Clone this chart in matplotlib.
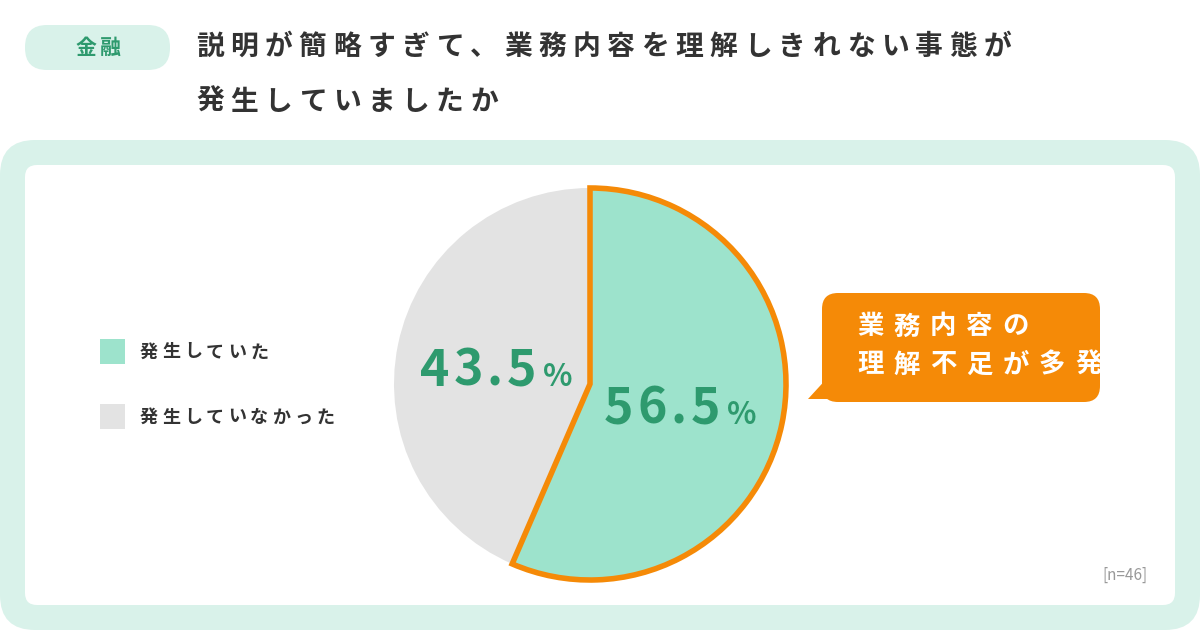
import matplotlib
matplotlib.use("Agg")
import matplotlib.pyplot as plt
from matplotlib.patches import FancyBboxPatch, Rectangle, Polygon

plt.rcParams['font.family'] = ['Noto Sans CJK JP', 'DejaVu Sans']

categories = ["発生していた", "発生していなかった"]
values = [56.5, 43.5]
colors = ["#9de3cc", "#e3e3e3"]
tag = "金融"
title_lines = ["説明が簡略すぎて、業務内容を理解しきれない事態が", "発生していましたか"]
callout_lines = ["業務内容の", "理解不足が多発"]
note = "[n=46]"

H = 630
fig = plt.figure(figsize=(12, 6.3), dpi=100)
ax = fig.add_axes([0, 0, 1, 1])
ax.set_xlim(0, 1200); ax.set_ylim(0, H); ax.set_aspect('equal'); ax.axis('off')
renderer = fig.canvas.get_renderer()

def Y(y): return H - y

def spaced(x, y, s, spacing, va='center', **kw):
    """Draw string char by char with extra letter spacing (pixels). Returns end x."""
    for ch in s:
        t = ax.text(x, y, ch, ha='left', va=va, **kw)
        w = t.get_window_extent(renderer).width
        x += w + spacing
    return x

def width_of(s, spacing, **kw):
    tot = 0
    for ch in s:
        t = ax.text(0, 0, ch, **kw)
        tot += t.get_window_extent(renderer).width + spacing
        t.remove()
    return tot - spacing

mint = "#d9f2ea"; green = "#2e9a6e"; orange = "#f58a07"; dark = "#333333"
ax.add_patch(FancyBboxPatch((25, Y(70)), 145, 45, boxstyle="round,pad=0,rounding_size=22", fc=mint, ec='none'))
spaced(76, Y(47), tag, 3, fontsize=15, color=green, fontweight='bold')
for i, line in enumerate(title_lines):
    spaced(196, Y(47 + 55 * i), line, 6.5, fontsize=20, color=dark, fontweight='bold')

ax.add_patch(FancyBboxPatch((0, 0), 1200, Y(140), boxstyle="round,pad=0,rounding_size=35", fc=mint, ec='none'))
ax.add_patch(FancyBboxPatch((25, Y(605)), 1150, 440, boxstyle="round,pad=0,rounding_size=12", fc='white', ec='none'))

wedges, _ = ax.pie(values, colors=colors, startangle=90, counterclock=False,
                   center=(590, Y(384)), radius=196, frame=True)
wedges[0].set_edgecolor(orange); wedges[0].set_linewidth(4); wedges[0].set_zorder(3)
wedges[1].set_edgecolor('none')
ax.set_xlim(0, 1200); ax.set_ylim(0, H); ax.axis('off')

def pct(xl, y, v):
    kw = dict(fontsize=36, color=green, fontweight='bold', zorder=5)
    xe = spaced(xl, y, f"{v}", 4, va='baseline', **kw)
    ax.text(xe + 2, y, "%", ha='left', va='baseline', fontsize=22, color=green, fontweight='bold', zorder=5)
pct(420, Y(386), values[1])
pct(604, Y(424), values[0])

ax.add_patch(FancyBboxPatch((822, Y(402)), 278, 109, boxstyle="round,pad=0,rounding_size=16", fc=orange, ec='none'))
ax.add_patch(Polygon([(830, Y(375)), (808, Y(399)), (850, Y(399))], fc=orange, ec='none'))
for i, line in enumerate(callout_lines):
    spaced(857, Y(327 + 38 * i), line, 10, fontsize=19, color='white', fontweight='bold')

for i, (c, col) in enumerate(zip(categories, colors)):
    yc = 352 + i * 65
    ax.add_patch(Rectangle((100, Y(yc + 12)), 25, 25, fc=col, ec='none'))
    spaced(140, Y(yc), c, 4, fontsize=13, color=dark, fontweight='bold')

ax.text(1148, Y(575), note, ha='right', va='center', fontsize=11, color="#999999")

fig.savefig("out.png", dpi=100, facecolor='white')
